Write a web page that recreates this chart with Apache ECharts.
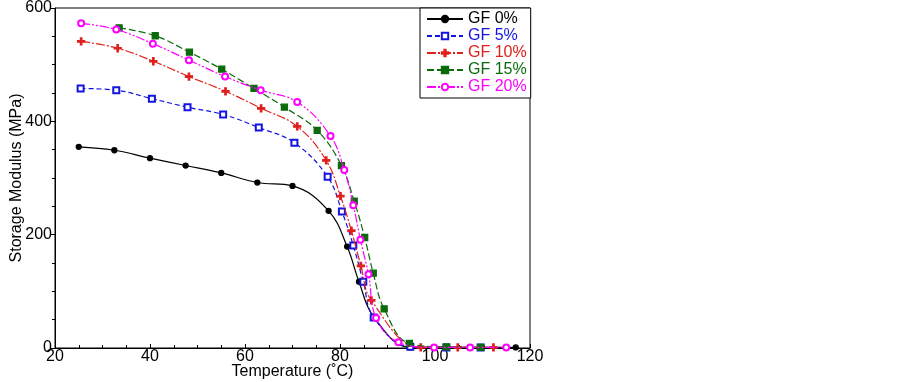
<!DOCTYPE html>
<html>
<head>
<meta charset="utf-8">
<script src="https://cdn.jsdelivr.net/npm/echarts@6/dist/echarts.min.js"></script>
<style>
  html, body { margin: 0; padding: 0; background: #fff; }
  #chart { width: 902px; height: 382px; }
</style>
</head>
<body>
<div id="chart"></div>
<script>
// ——— data (temperature °C, storage modulus MPa) ———
const gf0T  = [25, 32.5, 40, 47.5, 55, 62.6, 70, 77.6, 81.5, 84, 87.1, 94.8, 102.3, 109.9, 117];
const gf0E  = [355, 349, 335, 322, 309, 292, 286, 242, 179, 117, 55, 1, 1, 1, 1];

const gf5T  = [25.4, 32.9, 40.4, 47.9, 55.4, 62.9, 70.4, 77.4, 80.4, 82.8, 84.9, 87.1, 94.8, 102.4, 109.6];
const gf5E  = [458, 455, 440, 425, 412, 389, 362, 302, 241, 181, 117, 54, 2, 1, 1];

const gf10T = [25.5, 33.2, 40.7, 48.2, 55.9, 63.4, 71, 77.1, 80.1, 82.4, 84.4, 86.6, 97, 104.8, 112.3];
const gf10E = [541, 529, 506, 479, 453, 423, 391, 331, 268, 207, 145, 84, 1, 1, 1];

const gf15T = [33.5, 41.1, 48.3, 55.1, 61.9, 68.3, 75.2, 80.3, 83, 85.2, 87, 89.3, 94.6, 102.4, 109.6];
const gf15E = [565, 551, 522, 492, 458, 425, 384, 322, 259, 195, 132, 69, 8, 2, 1];

const gf20T = [25.5, 32.9, 40.6, 48.2, 55.8, 63.3, 71, 78, 80.9, 82.8, 84.3, 86, 87.6, 92.3, 99.8, 107.4, 115];
const gf20E = [573, 562, 537, 508, 479, 455, 434, 374, 314, 252, 191, 130, 53, 10, 1, 1, 1];

const names = ['GF 0%', 'GF 5%', 'GF 10%', 'GF 15%', 'GF 20%'];
const xTicks = [20, 120, 20];   // min, max, interval
const yTicks = [0, 600, 200];

const zip = (xs, ys) => xs.map((x, i) => [x, ys[i]]);

const plus = 'path://M4,0H6V4H10V6H6V10H4V6H0V4H4Z';

const styles = [
  { color: '#000000', symbol: 'circle',      size: 5, type: 'solid' },
  { color: '#1414e0', symbol: 'emptyRect',   size: 6, type: [5, 3] },
  { color: '#e0201c', symbol: plus,          size: 7, type: [9, 2, 2, 2] },
  { color: '#0b6b0b', symbol: 'rect',        size: 6, type: [7, 3] },
  { color: '#ff00ff', symbol: 'emptyCircle', size: 6, type: [9, 2, 2, 2, 2, 2] }
];
const sets = [zip(gf0T, gf0E), zip(gf5T, gf5E), zip(gf10T, gf10E), zip(gf15T, gf15E), zip(gf20T, gf20E)];

const font = 'Liberation Sans, Arial, sans-serif';

const chart = echarts.init(document.getElementById('chart'));
chart.setOption({
  animation: false,
  grid: {
    left: 55, right: 372, top: 8, bottom: 34,
    outerBoundsMode: 'none',
    containLabel: false,
    show: true, borderColor: '#000', borderWidth: 1
  },
  legend: {
    orient: 'vertical',
    left: 420, top: 8,
    padding: [3, 4, 3, 6],
    itemGap: 1,
    itemWidth: 36,
    itemHeight: 8,
    borderColor: '#000',
    borderWidth: 1,
    backgroundColor: '#fff',
    textStyle: { fontFamily: font, fontSize: 16, lineHeight: 16 },
    data: names.map((n, i) => ({ name: n, textStyle: { color: styles[i].color } }))
  },
  xAxis: {
    type: 'value',
    min: xTicks[0], max: xTicks[1], interval: xTicks[2],
    name: 'Temperature (˚C)',
    nameLocation: 'middle', nameGap: 16,
    nameMoveOverlap: false,
    nameTextStyle: { color: '#000', fontFamily: font, fontSize: 16 },
    axisLine: { lineStyle: { color: '#000' } },
    axisTick: { inside: true, length: 4, lineStyle: { color: '#000' } },
    minorTick: { show: true, splitNumber: 4, length: 3, lineStyle: { color: '#000' } },
    axisLabel: { color: '#000', fontFamily: font, fontSize: 16, margin: 1 },
    splitLine: { show: false }
  },
  yAxis: {
    type: 'value',
    min: yTicks[0], max: yTicks[1], interval: yTicks[2],
    name: 'Storage Modulus (MPa)',
    nameLocation: 'middle', nameGap: 30,
    nameMoveOverlap: false,
    nameTextStyle: { color: '#000', fontFamily: font, fontSize: 16 },
    axisLine: { show: true, lineStyle: { color: '#000' } },
    axisTick: { show: true, length: 5, lineStyle: { color: '#000' } },
    minorTick: { show: true, splitNumber: 4, length: 3, lineStyle: { color: '#000' } },
    axisLabel: { color: '#000', fontFamily: font, fontSize: 16, margin: 3 },
    splitLine: { show: false }
  },
  series: sets.map((d, i) => ({
    name: names[i],
    type: 'line',
    data: d,
    smooth: 0.4,
    symbol: styles[i].symbol,
    symbolSize: styles[i].size,
    showAllSymbol: true,
    lineStyle: { color: styles[i].color, width: 1.2, type: styles[i].type },
    itemStyle: { color: styles[i].color, borderColor: styles[i].color, borderWidth: 1.3 },
    z: 2 + i
  }))
});
</script>
</body>
</html>
